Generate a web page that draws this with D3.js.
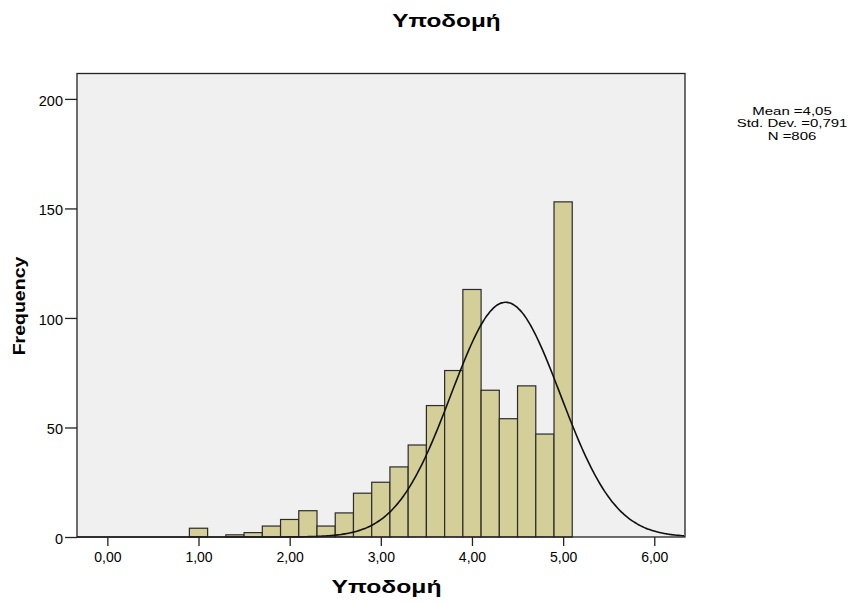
<!DOCTYPE html>
<html>
<head>
<meta charset="utf-8">
<script src="https://cdn.jsdelivr.net/npm/d3@7"></script>
<style>
  body { margin: 0; background: #fff; }
  svg text { font-family: "Liberation Sans", Arial, sans-serif; fill: #000; }
</style>
</head>
<body>
<svg id="chart" width="854" height="603"></svg>
<script>
// histogram bins (lower edge) and counts
const binStarts = [0.9, 1.3, 1.5, 1.7, 1.9, 2.1, 2.3, 2.5, 2.7, 2.9, 3.1, 3.3, 3.5, 3.7, 3.9, 4.1, 4.3, 4.5, 4.7, 4.9];
const binWidth = 0.2;
const counts = [4, 1, 2, 5, 8, 12, 5, 11, 20, 25, 32, 42, 60, 76, 113, 67, 54, 69, 47, 153];

// axis ticks
const xTicks = [0, 1, 2, 3, 4, 5, 6];
const yTicks = [0, 50, 100, 150, 200];

// normal curve drawn over the histogram
const curveMean = 4.37;
const curveSd = 0.6;
const curveN = 806;

// statistics box
const statLines = ["Mean =4,05", "Std. Dev. =0,791", "N =806"];

const titleText = "Υποδομή";
const xLabel = "Υποδομή";
const yLabel = "Frequency";

const svg = d3.select("#chart");

// plot area
const plot = { left: 77, right: 685, top: 73.5, bottom: 537 };

const x = d3.scaleLinear()
    .domain([-0.333, 6.337])
    .range([plot.left, plot.right]);

const y = d3.scaleLinear()
    .domain([0, 211.6])
    .range([plot.bottom, plot.top]);

// background
svg.append("rect")
    .attr("x", plot.left)
    .attr("y", plot.top)
    .attr("width", plot.right - plot.left)
    .attr("height", plot.bottom - plot.top)
    .style("fill", "#f0f0f0");

// bars
svg.selectAll(".bar")
    .data(binStarts.map((s, i) => ({ x0: s, x1: s + binWidth, n: counts[i] })))
    .enter().append("rect")
    .attr("class", "bar")
    .attr("x", d => x(d.x0))
    .attr("y", d => y(d.n))
    .attr("width", d => x(d.x1) - x(d.x0))
    .attr("height", d => y(0) - y(d.n))
    .style("fill", "#d4cf99")
    .style("stroke", "#2b2b2b")
    .style("stroke-width", 1.2);

// normal curve
const peak = curveN * binWidth / (curveSd * Math.sqrt(2 * Math.PI));
const curvePts = d3.range(x.domain()[0], x.domain()[1] + 0.001, 0.02)
    .map(v => [v, peak * Math.exp(-0.5 * Math.pow((v - curveMean) / curveSd, 2))]);

svg.append("path")
    .datum(curvePts)
    .attr("d", d3.line().x(d => x(d[0])).y(d => y(d[1])).curve(d3.curveBasis))
    .style("fill", "none")
    .style("stroke", "#111")
    .style("stroke-width", 1.6);

// frame
svg.append("rect")
    .attr("x", plot.left)
    .attr("y", plot.top)
    .attr("width", plot.right - plot.left)
    .attr("height", plot.bottom - plot.top)
    .style("fill", "none")
    .style("stroke", "#222")
    .style("stroke-width", 1.3);

// x axis
const xAxis = svg.append("g")
    .attr("transform", `translate(0,${plot.bottom})`)
    .call(d3.axisBottom(x).tickValues(xTicks).tickSize(9).tickPadding(6)
        .tickFormat(d => d3.format(".2f")(d).replace(".", ",")));
xAxis.select(".domain").remove();
xAxis.selectAll("line").style("stroke", "#222").style("stroke-width", 1.3);
xAxis.selectAll("text").style("font-size", "14px").style("font-family", "Liberation Sans, Arial, sans-serif");

// y axis
const yAxis = svg.append("g")
    .attr("transform", `translate(${plot.left},0)`)
    .call(d3.axisLeft(y).tickValues(yTicks).tickSize(12).tickPadding(2));
yAxis.select(".domain").remove();
yAxis.selectAll("line").style("stroke", "#222").style("stroke-width", 1.3);
yAxis.selectAll("text")
    .attr("dy", "0.42em")
    .style("font-size", "14.5px")
    .style("font-family", "Liberation Sans, Arial, sans-serif");

// title (SPSS draws these glyphs wider, so stretch horizontally)
svg.append("text")
    .attr("transform", "translate(446.5,27) scale(1.28,1)")
    .attr("text-anchor", "middle")
    .style("font-size", "19px")
    .style("font-weight", "bold")
    .text(titleText);

// x label
svg.append("text")
    .attr("transform", "translate(386.5,593) scale(1.3,1)")
    .attr("text-anchor", "middle")
    .style("font-size", "19px")
    .style("font-weight", "bold")
    .text(xLabel);

// y label
svg.append("text")
    .attr("transform", "translate(25,306) rotate(-90) scale(1.15,1)")
    .attr("text-anchor", "middle")
    .style("font-size", "17px")
    .style("font-weight", "bold")
    .text(yLabel);

// statistics text
svg.selectAll(".stat")
    .data(statLines)
    .enter().append("text")
    .attr("class", "stat")
    .attr("transform", (d, i) => `translate(792,${114.5 + i * 12.8}) scale(1.36,1)`)
    .attr("text-anchor", "middle")
    .style("font-size", "11px")
    .text(d => d);
</script>
</body>
</html>
